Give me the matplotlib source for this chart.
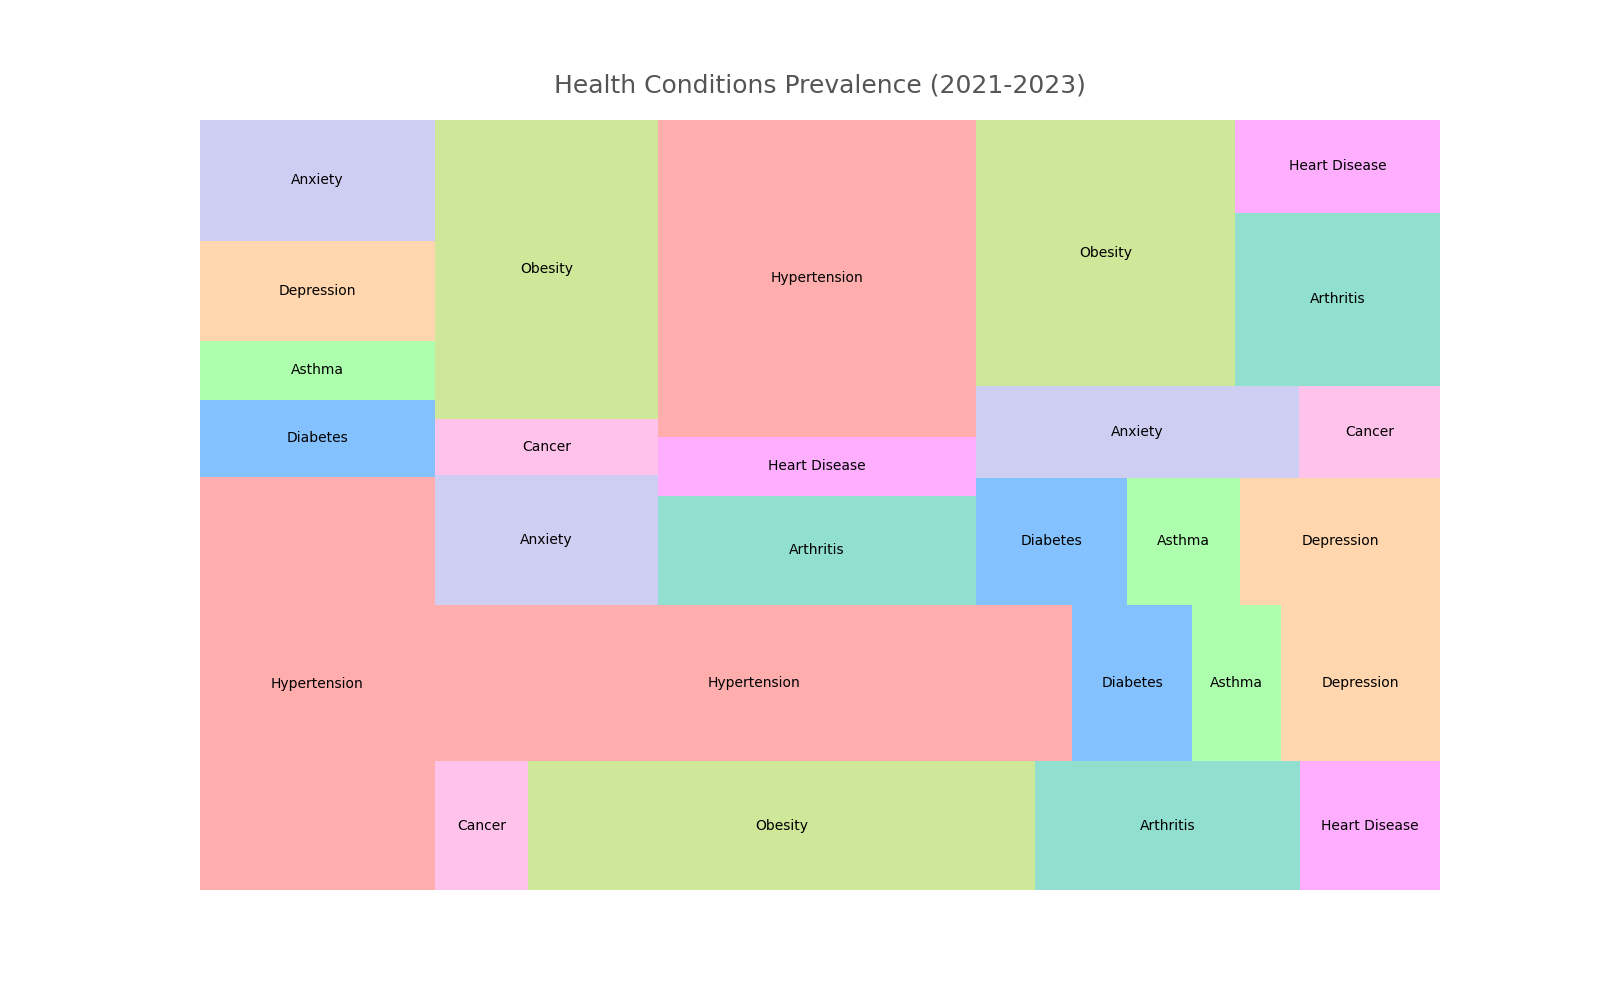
import matplotlib
matplotlib.use("Agg")
import matplotlib.pyplot as plt

# prevalence (%) per year, same condition order each year
conditions = ["Hypertension", "Diabetes", "Asthma", "Depression", "Anxiety",
              "Cancer", "Obesity", "Arthritis", "Heart Disease"]
years = ["2021", "2022", "2023"]
values_2021 = [45.1, 8.5, 6.35, 11.0, 13.2, 5.6, 30.4, 15.9, 8.4]
values_2022 = [46.3, 8.7, 6.45, 11.55, 13.5, 5.8, 31.0, 16.2, 8.7]
values_2023 = [46.9, 8.95, 6.7, 11.85, 13.85, 6.05, 32.05, 16.45, 8.85]

palette = {
    "Hypertension": "#FF9999",
    "Diabetes": "#66B2FF",
    "Asthma": "#99FF99",
    "Depression": "#FFCC99",
    "Anxiety": "#C2C2F0",
    "Cancer": "#FFB3E6",
    "Obesity": "#C4E17F",
    "Arthritis": "#76D7C4",
    "Heart Disease": "#FF99FF",
}


# --- squarified treemap layout (same algorithm as the squarify package) ---
def normalize_sizes(sizes, dx, dy):
    total = sum(sizes)
    return [s * dx * dy / total for s in sizes]


def layoutrow(sizes, x, y, dx, dy):
    width = sum(sizes) / dy
    rects = []
    for s in sizes:
        rects.append((x, y, width, s / width))
        y += s / width
    return rects


def layoutcol(sizes, x, y, dx, dy):
    height = sum(sizes) / dx
    rects = []
    for s in sizes:
        rects.append((x, y, s / height, height))
        x += s / height
    return rects


def layout(sizes, x, y, dx, dy):
    if dx >= dy:
        return layoutrow(sizes, x, y, dx, dy)
    return layoutcol(sizes, x, y, dx, dy)


def leftover(sizes, x, y, dx, dy):
    if dx >= dy:
        width = sum(sizes) / dy
        return x + width, y, dx - width, dy
    height = sum(sizes) / dx
    return x, y + height, dx, dy - height


def worst_ratio(sizes, x, y, dx, dy):
    return max(max(r[2] / r[3], r[3] / r[2]) for r in layout(sizes, x, y, dx, dy))


def squarify(sizes, x, y, dx, dy):
    if len(sizes) == 0:
        return []
    if len(sizes) == 1:
        return layout(sizes, x, y, dx, dy)
    i = 1
    while i < len(sizes) and worst_ratio(sizes[:i], x, y, dx, dy) >= worst_ratio(sizes[:i + 1], x, y, dx, dy):
        i += 1
    cur, rest = sizes[:i], sizes[i:]
    lx, ly, ldx, ldy = leftover(cur, x, y, dx, dy)
    return layout(cur, x, y, dx, dy) + squarify(rest, lx, ly, ldx, ldy)


sizes = values_2021 + values_2022 + values_2023
labels = conditions * len(years)
colors = [palette[c] for c in labels]

rects = squarify(normalize_sizes(sizes, 100, 100), 0, 0, 100, 100)

fig, ax = plt.subplots(figsize=(16, 10), dpi=100)
xs = [r[0] for r in rects]
ys = [r[1] for r in rects]
ws = [r[2] for r in rects]
hs = [r[3] for r in rects]
ax.bar(xs, hs, width=ws, bottom=ys, color=colors, align="edge", alpha=0.8)
for r, lab in zip(rects, labels):
    ax.text(r[0] + r[2] / 2, r[1] + r[3] / 2, lab, ha="center", va="center", fontsize=10)

ax.set_xlim(0, 100)
ax.set_ylim(0, 100)
ax.axis("off")
ax.set_title("Health Conditions Prevalence (2021-2023)", fontsize=18, color="#555555", pad=20)

plt.savefig("out.png")
